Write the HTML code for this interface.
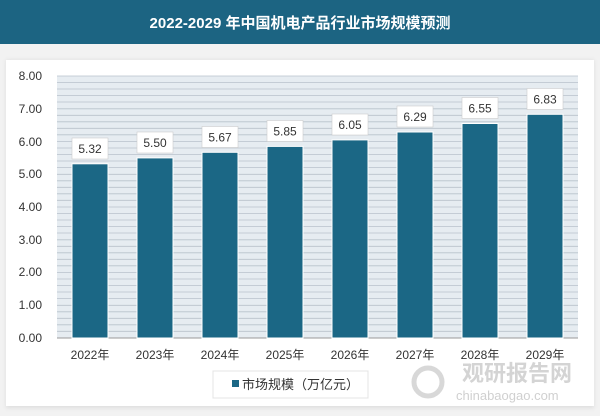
<!DOCTYPE html>
<html><head><meta charset="utf-8"><style>
body{margin:0;width:600px;height:416px;background:#f2f2f2;overflow:hidden;font-family:"Liberation Sans","Noto Sans CJK SC",sans-serif;}
</style></head><body>
<svg width="600" height="416" xmlns="http://www.w3.org/2000/svg" style="position:absolute;left:0;top:0">
<defs>
<filter id="sh" x="-20%" y="-20%" width="140%" height="140%"><feGaussianBlur stdDeviation="2"/></filter>
</defs>
<rect x="0" y="0" width="600" height="44" fill="#1c6482"/>
<text x="300" y="28" text-anchor="middle" font-size="15" font-weight="bold" fill="#fff" font-family="Liberation Sans,Noto Sans CJK SC,sans-serif">2022-2029 年中国机电产品行业市场规模预测</text>
<rect x="6" y="60" width="588" height="348" fill="#ddd" filter="url(#sh)"/>
<rect x="6" y="60" width="588" height="346" fill="#fff"/>
<rect x="57" y="76" width="521" height="262" fill="#e6ecf1"/>
<g stroke="#b9c3cc" stroke-width="0.8">
<script>/*no*/</script>
</g>
<g id="grid"></g>
<g font-size="12" fill="#333" text-anchor="end">
<text x="42" y="80">8.00</text><text x="42" y="113">7.00</text><text x="42" y="146">6.00</text><text x="42" y="178">5.00</text><text x="42" y="211">4.00</text><text x="42" y="244">3.00</text><text x="42" y="276">2.00</text><text x="42" y="309">1.00</text><text x="42" y="342">0.00</text>
</g>
<line x1="57" y1="338" x2="578" y2="338" stroke="#999" stroke-width="1"/>
</svg>
<svg width="600" height="416" xmlns="http://www.w3.org/2000/svg" style="position:absolute;left:0;top:0">
<g stroke="#b8c2cb" stroke-width="0.8">
<line x1="57" x2="578" y1="76" y2="76"/><line x1="57" x2="578" y1="82.5" y2="82.5"/><line x1="57" x2="578" y1="89" y2="89"/><line x1="57" x2="578" y1="95.5" y2="95.5"/><line x1="57" x2="578" y1="102" y2="102"/><line x1="57" x2="578" y1="108.8" y2="108.8"/><line x1="57" x2="578" y1="115.3" y2="115.3"/><line x1="57" x2="578" y1="121.8" y2="121.8"/><line x1="57" x2="578" y1="128.3" y2="128.3"/><line x1="57" x2="578" y1="134.8" y2="134.8"/><line x1="57" x2="578" y1="141.5" y2="141.5"/><line x1="57" x2="578" y1="148" y2="148"/><line x1="57" x2="578" y1="154.5" y2="154.5"/><line x1="57" x2="578" y1="161" y2="161"/><line x1="57" x2="578" y1="167.5" y2="167.5"/><line x1="57" x2="578" y1="174.3" y2="174.3"/><line x1="57" x2="578" y1="180.8" y2="180.8"/><line x1="57" x2="578" y1="187.3" y2="187.3"/><line x1="57" x2="578" y1="193.8" y2="193.8"/><line x1="57" x2="578" y1="200.3" y2="200.3"/><line x1="57" x2="578" y1="207" y2="207"/><line x1="57" x2="578" y1="213.5" y2="213.5"/><line x1="57" x2="578" y1="220" y2="220"/><line x1="57" x2="578" y1="226.5" y2="226.5"/><line x1="57" x2="578" y1="233" y2="233"/><line x1="57" x2="578" y1="239.8" y2="239.8"/><line x1="57" x2="578" y1="246.3" y2="246.3"/><line x1="57" x2="578" y1="252.8" y2="252.8"/><line x1="57" x2="578" y1="259.3" y2="259.3"/><line x1="57" x2="578" y1="265.8" y2="265.8"/><line x1="57" x2="578" y1="272.5" y2="272.5"/><line x1="57" x2="578" y1="279" y2="279"/><line x1="57" x2="578" y1="285.5" y2="285.5"/><line x1="57" x2="578" y1="292" y2="292"/><line x1="57" x2="578" y1="298.5" y2="298.5"/><line x1="57" x2="578" y1="305.3" y2="305.3"/><line x1="57" x2="578" y1="311.8" y2="311.8"/><line x1="57" x2="578" y1="318.3" y2="318.3"/><line x1="57" x2="578" y1="324.8" y2="324.8"/><line x1="57" x2="578" y1="331.3" y2="331.3"/>
</g>
<line x1="57" y1="338" x2="578" y2="338" stroke="#999" stroke-width="1"/>
<g fill="#1b6785" stroke="#fff" stroke-width="1">
<rect x="72" y="163.8" width="36" height="174.2"/>
<rect x="137" y="157.9" width="36" height="180.1"/>
<rect x="202" y="152.3" width="36" height="185.7"/>
<rect x="267" y="146.4" width="36" height="191.6"/>
<rect x="332" y="139.9" width="36" height="198.1"/>
<rect x="397" y="132" width="36" height="206"/>
<rect x="462" y="123.5" width="36" height="214.5"/>
<rect x="527" y="114.3" width="36" height="223.7"/>
</g>
<g fill="#fff" stroke="#ccc" stroke-width="0.6">
<rect x="72" y="138" width="36" height="21"/><rect x="137" y="132" width="36" height="21"/><rect x="202" y="126.5" width="36" height="21"/><rect x="267" y="120.5" width="36" height="21"/><rect x="332" y="114" width="36" height="21"/><rect x="397" y="106" width="36" height="21"/><rect x="462" y="97.5" width="36" height="21"/><rect x="527" y="88.5" width="36" height="21"/>
</g>
<g font-size="12" fill="#333" text-anchor="middle">
<text x="90" y="153">5.32</text><text x="155" y="147">5.50</text><text x="220" y="141.5">5.67</text><text x="285" y="135.5">5.85</text><text x="350" y="129">6.05</text><text x="415" y="121">6.29</text><text x="480" y="112.5">6.55</text><text x="545" y="103.5">6.83</text>
</g>
<g font-size="12" fill="#333" text-anchor="middle" font-family="Liberation Sans,Noto Sans CJK SC,sans-serif">
<text x="90" y="359">2022年</text><text x="155" y="359">2023年</text><text x="220" y="359">2024年</text><text x="285" y="359">2025年</text><text x="350" y="359">2026年</text><text x="415" y="359">2027年</text><text x="480" y="359">2028年</text><text x="545" y="359">2029年</text>
</g>
<rect x="213" y="371" width="155" height="27" fill="#fff" stroke="#e4e4e4"/>
<rect x="232" y="380" width="7" height="7" fill="#1b6785"/>
<text x="242" y="389" font-size="13" fill="#333" font-family="Liberation Sans,Noto Sans CJK SC,sans-serif">市场规模（万亿元）</text>
<text x="462" y="381" font-size="22" font-weight="bold" fill="#d4d4d4" font-family="Noto Sans CJK SC,sans-serif">观研报告网</text>
<text x="456" y="400" font-size="13" fill="#d0d0d0">chinabaogao.com</text>
<circle cx="428" cy="382" r="14" fill="none" stroke="#d8d8d8" stroke-width="5"/>
</svg>
</body></html>
